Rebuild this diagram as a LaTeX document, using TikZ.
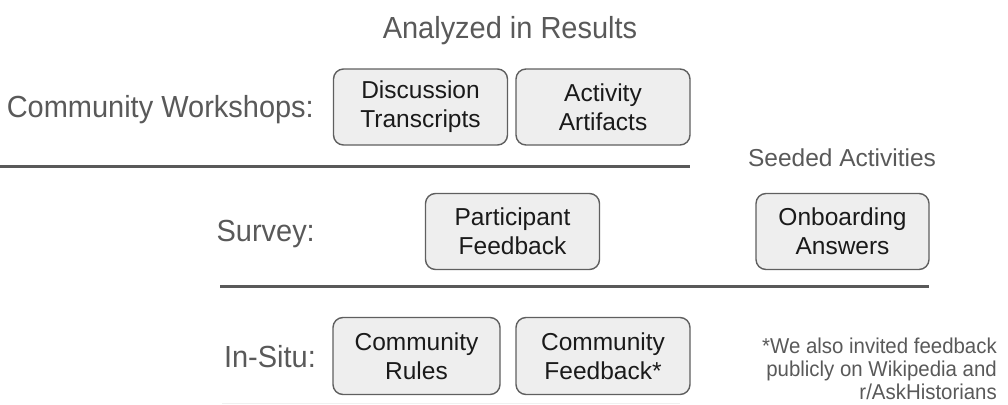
\documentclass[tikz,border=0pt]{standalone}
\usepackage{fontspec}
\setmainfont{Liberation Sans}
\newfontfamily\condsans[FakeStretch=0.95]{Liberation Sans}
\definecolor{labelgray}{HTML}{595959}
\definecolor{boxfill}{HTML}{EEEEEE}
\definecolor{boxline}{HTML}{5F5F5F}
\definecolor{boxtext}{HTML}{1A1A1A}
\begin{document}
\begin{tikzpicture}[x=1pt,y=-1pt,
  label/.style={text=labelgray,font=\condsans\fontsize{30.5}{32}\selectfont,inner sep=0pt},
  srcbox/.style={draw=boxline,line width=1.4pt,fill=boxfill,rounded corners=10pt,
    text=boxtext,align=center,font=\fontsize{24.5}{29}\selectfont,inner sep=0pt},
  rule/.style={draw=labelgray,line width=3pt},
  note/.style={text=labelgray,font=\condsans\fontsize{21.5}{23}\selectfont,inner sep=0pt}]
\useasboundingbox (0,0) rectangle (1008,404);
% title
\node[label,anchor=base] (title) at (510,38.5) {Analyzed in Results};
% row labels
\node[label,anchor=base east] (cw) at (314,117) {Community Workshops:};
\node[label,anchor=base east] (sv) at (315,241.5) {Survey:};
\node[label,anchor=base east] (is) at (316,367) {In-Situ:};
\node[label,anchor=base,font=\fontsize{24.5}{26}\selectfont] (seed) at (842,166) {Seeded Activities};
% boxes
\node[srcbox,minimum width=174pt,minimum height=76pt] (dt) at (420.5,107) {Discussion\\Transcripts};
\node[srcbox,minimum width=174pt,minimum height=76pt] (aa) at (603,107) {Activity\\Artifacts};
\node[srcbox,minimum width=174pt,minimum height=76pt] (pf) at (512.5,231.5) {Participant\\Feedback};
\node[srcbox,minimum width=173pt,minimum height=76pt] (oa) at (842.5,231.5) {Onboarding\\Answers};
\node[srcbox,minimum width=167pt,minimum height=77pt] (cr) at (416.5,356) {Community\\Rules};
\node[srcbox,minimum width=174pt,minimum height=77pt] (cf) at (603,356) {Community\\Feedback*};
% separators
\coordinate (l1a) at (0,166.5);
\coordinate (l1b) at (690,166.5);
\coordinate (l2a) at (220,286.5);
\coordinate (l2b) at (929,286.5);
\coordinate (l3a) at (222,403);
\coordinate (l3b) at (680,403);
\draw[rule] (l1a) -- (l1b);
\draw[rule] (l2a) -- (l2b);
\draw[draw=black!6,line width=1pt] (l3a) -- (l3b);
% note
\node[note,anchor=base east] (n1) at (997,353.5) {*We also invited feedback};
\node[note,anchor=base east] (n2) at (997,376.5) {publicly on Wikipedia and};
\node[note,anchor=base east] (n3) at (997,399) {r/AskHistorians};
\end{tikzpicture}
\end{document}
